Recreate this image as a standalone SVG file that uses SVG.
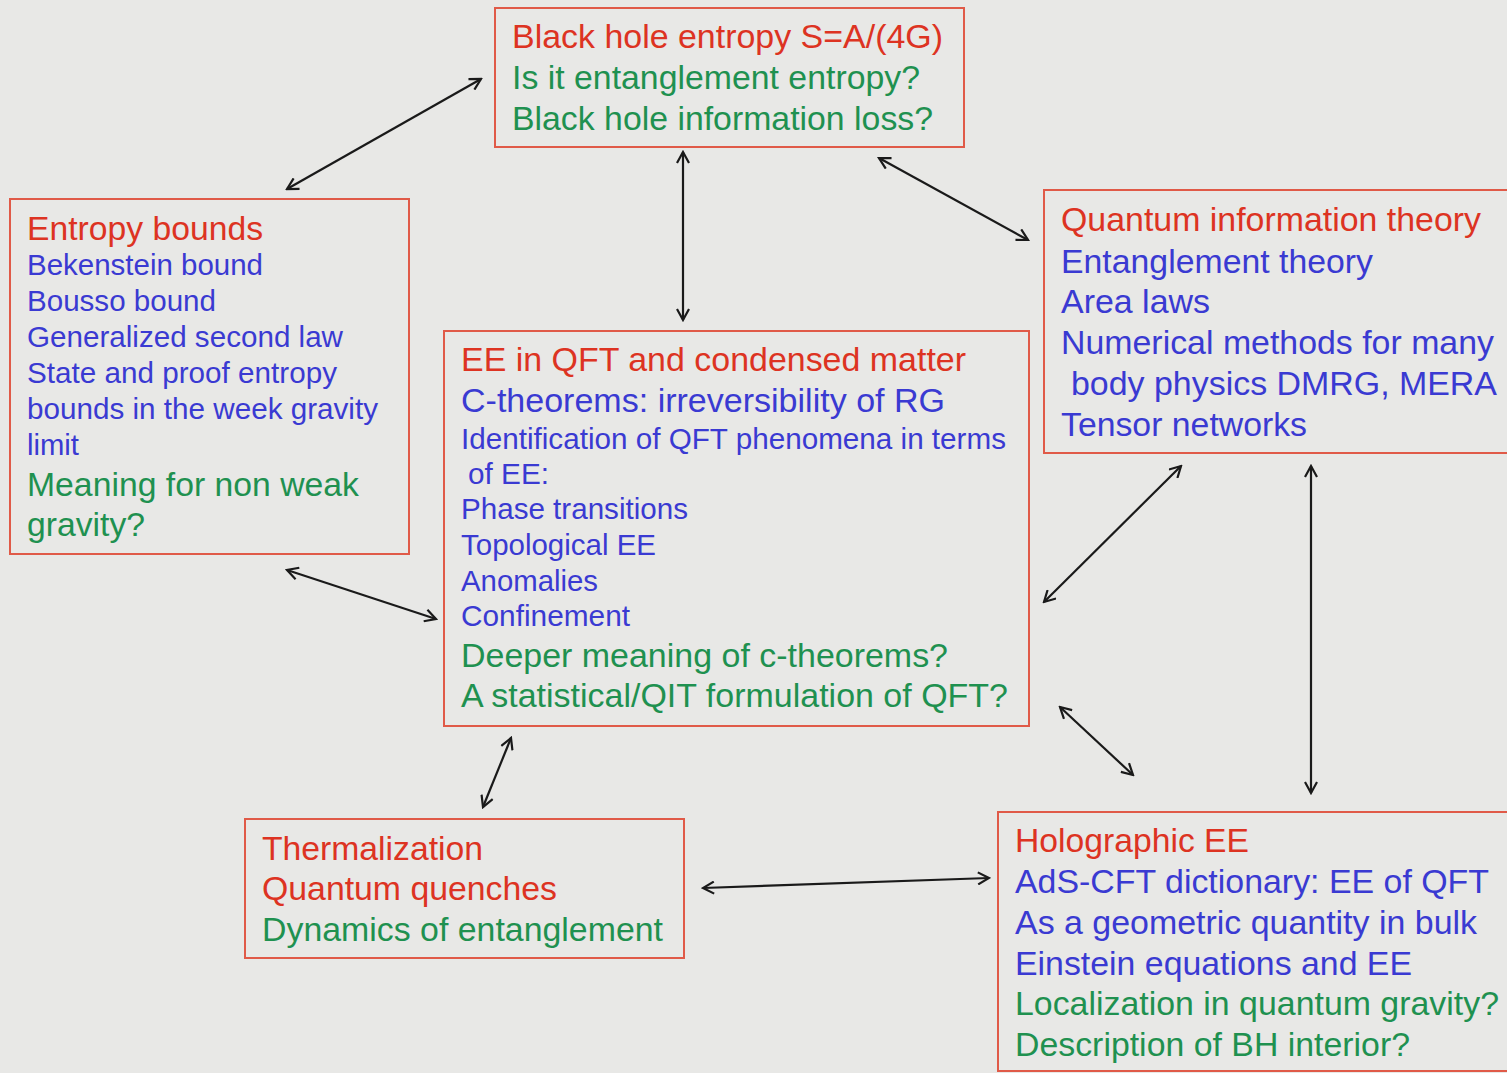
<svg xmlns="http://www.w3.org/2000/svg" width="1507" height="1073" viewBox="0 0 1507 1073">
<defs>
<marker id="ah" viewBox="0 0 14 14" refX="12" refY="7" markerWidth="14" markerHeight="14" markerUnits="userSpaceOnUse" orient="auto-start-reverse">
<path d="M1,1 L12,7 L1,13" fill="none" stroke="#1a1a1a" stroke-width="2.2" stroke-linejoin="miter"/>
</marker>
</defs>
<style>
.box{fill:none;stroke:#e05a48;stroke-width:2}
text{font-family:"Liberation Sans",Arial,sans-serif;font-size:33px}
.s{font-size:29px}
.r{fill:#dd3322}
.g{fill:#1f9150}
.b{fill:#3a3ad2}
.c{fill:none;stroke:#1a1a1a;stroke-width:2.2;marker-start:url(#ah);marker-end:url(#ah)}
</style>
<rect width="1507" height="1073" fill="#e8e8e6"/>

<g id="connectors">
<line class="c" x1="287" y1="189" x2="481" y2="79"/>
<line class="c" x1="683" y1="152" x2="683" y2="320"/>
<line class="c" x1="879" y1="158" x2="1028" y2="240"/>
<line class="c" x1="287" y1="570" x2="436" y2="619"/>
<line class="c" x1="1044" y1="602" x2="1181" y2="466"/>
<line class="c" x1="1311" y1="466" x2="1311" y2="793"/>
<line class="c" x1="1060" y1="707" x2="1133" y2="775"/>
<line class="c" x1="511" y1="738" x2="483" y2="807"/>
<line class="c" x1="703" y1="888" x2="989" y2="878"/>
</g>

<g id="blackhole">
<rect class="box" x="495" y="8" width="469" height="139"/>
<text class="r" x="512" y="48" textLength="431" lengthAdjust="spacingAndGlyphs">Black hole entropy S=A/(4G)</text>
<text class="g" x="512" y="89" textLength="408" lengthAdjust="spacingAndGlyphs">Is it entanglement entropy?</text>
<text class="g" x="512" y="130" textLength="421" lengthAdjust="spacingAndGlyphs">Black hole information loss?</text>
</g>

<g id="entropybounds">
<rect class="box" x="10" y="199" width="399" height="355"/>
<text class="r" x="27" y="240" textLength="236" lengthAdjust="spacingAndGlyphs">Entropy bounds</text>
<text class="b s" x="27" y="275" textLength="236" lengthAdjust="spacingAndGlyphs">Bekenstein bound</text>
<text class="b s" x="27" y="311" textLength="189" lengthAdjust="spacingAndGlyphs">Bousso bound</text>
<text class="b s" x="27" y="347" textLength="316" lengthAdjust="spacingAndGlyphs">Generalized second law</text>
<text class="b s" x="27" y="383" textLength="310" lengthAdjust="spacingAndGlyphs">State and proof entropy</text>
<text class="b s" x="27" y="419" textLength="351" lengthAdjust="spacingAndGlyphs">bounds in the week gravity</text>
<text class="b s" x="27" y="455" textLength="52" lengthAdjust="spacingAndGlyphs">limit</text>
<text class="g" x="27" y="496" textLength="332" lengthAdjust="spacingAndGlyphs">Meaning for non weak</text>
<text class="g" x="27" y="536" textLength="118" lengthAdjust="spacingAndGlyphs">gravity?</text>
</g>

<g id="qit">
<rect class="box" x="1044" y="190" width="470" height="263"/>
<text class="r" x="1061" y="231" textLength="420" lengthAdjust="spacingAndGlyphs">Quantum information theory</text>
<text class="b" x="1061" y="273" textLength="312" lengthAdjust="spacingAndGlyphs">Entanglement theory</text>
<text class="b" x="1061" y="313" textLength="149" lengthAdjust="spacingAndGlyphs">Area laws</text>
<text class="b" x="1061" y="354" textLength="433" lengthAdjust="spacingAndGlyphs">Numerical methods for many</text>
<text class="b" x="1071" y="395" textLength="426" lengthAdjust="spacingAndGlyphs">body physics DMRG, MERA</text>
<text class="b" x="1061" y="436" textLength="246" lengthAdjust="spacingAndGlyphs">Tensor networks</text>
</g>

<g id="eeqft">
<rect class="box" x="444" y="331" width="585" height="395"/>
<text class="r" x="461" y="371" textLength="505" lengthAdjust="spacingAndGlyphs">EE in QFT and condensed matter</text>
<text class="b" x="461" y="412" textLength="484" lengthAdjust="spacingAndGlyphs">C-theorems: irreversibility of RG</text>
<text class="b s" x="461" y="449" textLength="545" lengthAdjust="spacingAndGlyphs">Identification of QFT phenomena in terms</text>
<text class="b s" x="468" y="484" textLength="81" lengthAdjust="spacingAndGlyphs">of EE:</text>
<text class="b s" x="461" y="519" textLength="227" lengthAdjust="spacingAndGlyphs">Phase transitions</text>
<text class="b s" x="461" y="555" textLength="195" lengthAdjust="spacingAndGlyphs">Topological EE</text>
<text class="b s" x="461" y="591" textLength="137" lengthAdjust="spacingAndGlyphs">Anomalies</text>
<text class="b s" x="461" y="626" textLength="169" lengthAdjust="spacingAndGlyphs">Confinement</text>
<text class="g" x="461" y="667" textLength="487" lengthAdjust="spacingAndGlyphs">Deeper meaning of c-theorems?</text>
<text class="g" x="461" y="707" textLength="547" lengthAdjust="spacingAndGlyphs">A statistical/QIT formulation of QFT?</text>
</g>

<g id="thermalization">
<rect class="box" x="245" y="819" width="439" height="139"/>
<text class="r" x="262" y="860" textLength="221" lengthAdjust="spacingAndGlyphs">Thermalization</text>
<text class="r" x="262" y="900" textLength="295" lengthAdjust="spacingAndGlyphs">Quantum quenches</text>
<text class="g" x="262" y="941" textLength="401" lengthAdjust="spacingAndGlyphs">Dynamics of entanglement</text>
</g>

<g id="holographic">
<rect class="box" x="998" y="812" width="520" height="259"/>
<text class="r" x="1015" y="852" textLength="234" lengthAdjust="spacingAndGlyphs">Holographic EE</text>
<text class="b" x="1015" y="893" textLength="474" lengthAdjust="spacingAndGlyphs">AdS-CFT dictionary: EE of QFT</text>
<text class="b" x="1015" y="934" textLength="462" lengthAdjust="spacingAndGlyphs">As a geometric quantity in bulk</text>
<text class="b" x="1015" y="975" textLength="397" lengthAdjust="spacingAndGlyphs">Einstein equations and EE</text>
<text class="g" x="1015" y="1015" textLength="484" lengthAdjust="spacingAndGlyphs">Localization in quantum gravity?</text>
<text class="g" x="1015" y="1056" textLength="395" lengthAdjust="spacingAndGlyphs">Description of BH interior?</text>
</g>
</svg>
